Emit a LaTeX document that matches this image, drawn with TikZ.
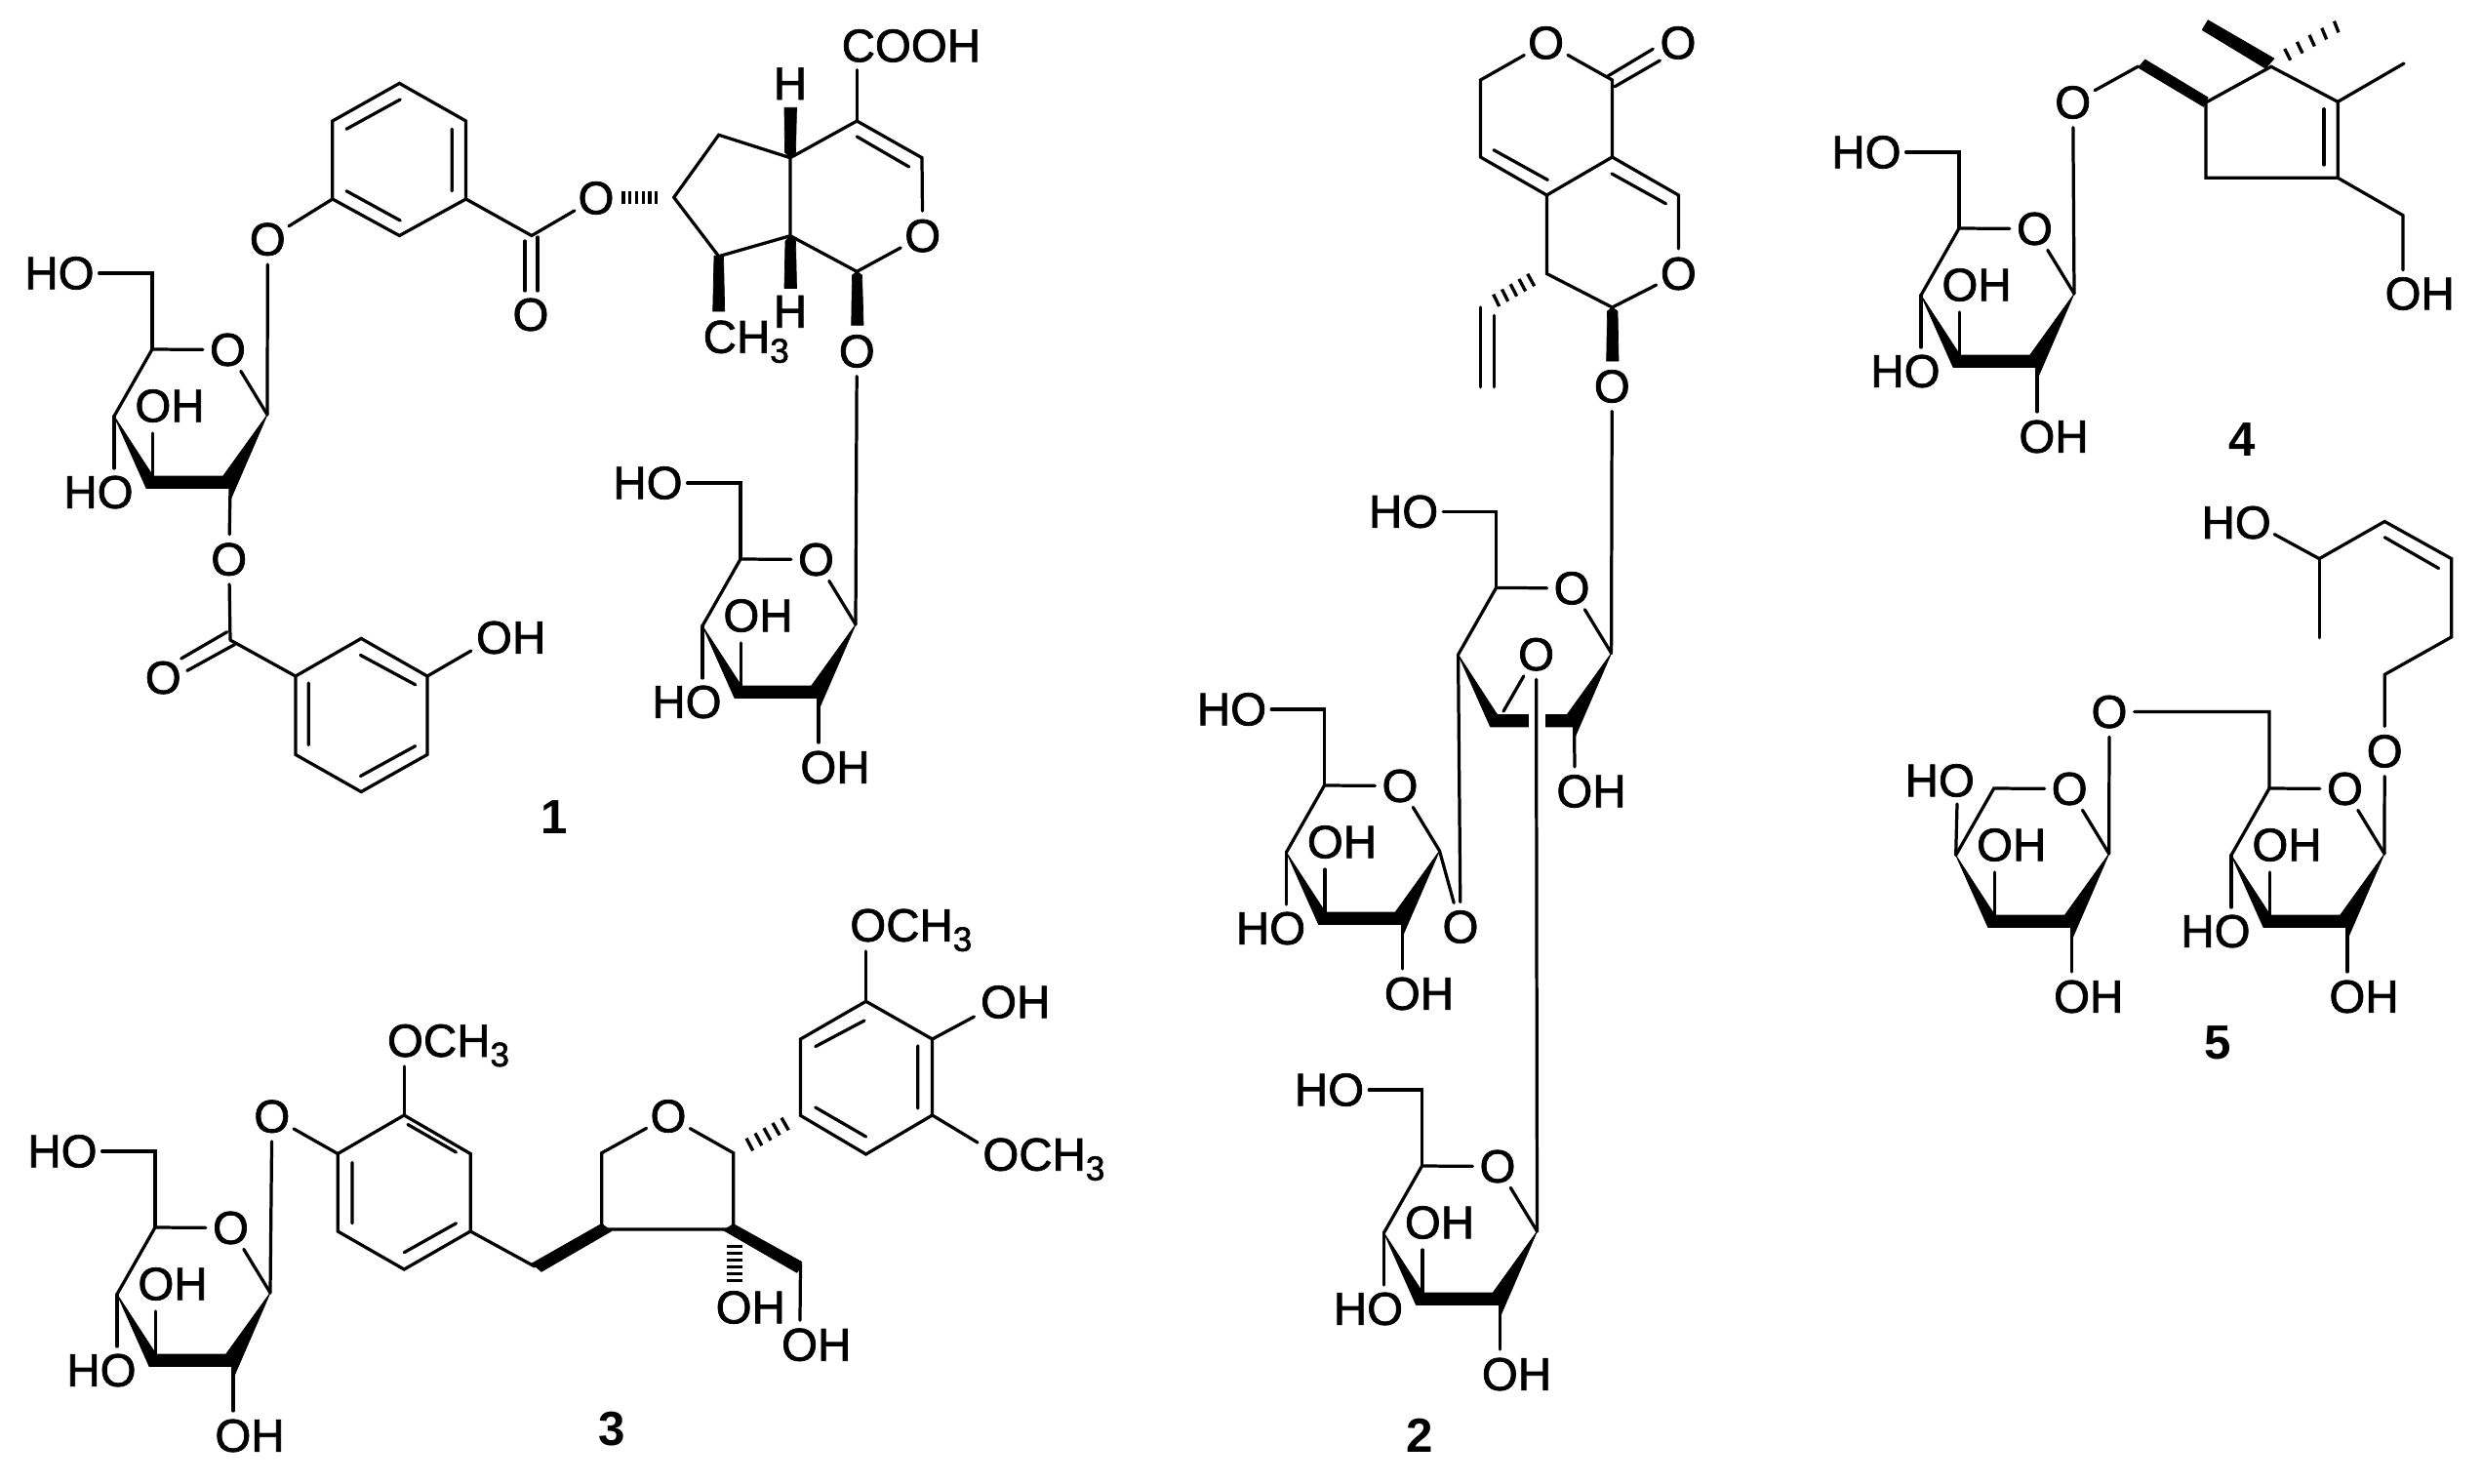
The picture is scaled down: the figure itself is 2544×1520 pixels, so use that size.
\documentclass[tikz,border=0pt]{standalone}
\usepackage{fontspec}
\setmainfont{Liberation Sans}
\usetikzlibrary{calc}
\newcommand\chemsub[1]{\raisebox{-2.84pt}{\fontsize{10}{11}\selectfont\addfontfeature{FakeBold=1.5}#1}}
\newcommand\chemfont{\fontsize{13.5}{16}\selectfont\addfontfeature{FakeBold=1.5}}
\tikzset{
  bond/.style={line width=0.92pt,line cap=round,line join=miter},
  wedgefill/.style={fill=black,draw=black,line width=0.2pt,line join=round},
  atom/.style={circle,minimum size=0.46cm,inner sep=0pt,font=\chemfont},
  lab/.style={inner sep=0pt,outer sep=0.05cm,font=\chemfont},
  num/.style={inner sep=0pt,font=\fontsize{14}{16}\selectfont\bfseries},
  ringcore/.pic={
    \coordinate (-c5) at (0,0);
    \node[atom] (-o) at (77.5,0.5) {O};
    \coordinate (-c1) at (118,67);
    \coordinate (-c4) at (-39,68.5);
    \coordinate (-c2) at (80,143);
    \coordinate (-c3) at (0.5,132);
    \draw[bond] (-c4)--(-c5)--(-o)--(-c1);
    \fill[wedgefill] (-c4)--(1,130)--(72.6,130)--(-c1)--(80,154.7)--(80,142.5)--(-6,142.5)--cycle;
  },
  ohthree/.pic={
    \coordinate (-c3b) at (0.5,132);
    \coordinate (-e3) at (0.5,86);
    \node[lab] (-oh3) at (18,58) {OH};
    \draw[bond] (-c3b)--(-e3);
  },
  hofour/.pic={
    \coordinate (-c4b) at (-39,68.5);
    \coordinate (-e4) at (-39,122);
    \node[lab] (-ho4) at (-55,146.5) {HO};
    \draw[bond] (-c4b)--(-e4);
  },
  hosix/.pic={
    \coordinate (-c5b) at (0,0);
    \coordinate (-c6) at (0,-78);
    \node[lab] (-ho6) at (-95,-78) {HO};
    \draw[bond] (-ho6.east)--(-c6)--(-c5b);
  },
  ohtwo/.pic={
    \coordinate (-c2b) at (80,143);
    \coordinate (-e2) at (80,188);
    \node[lab] (-oh2) at (97,213.5) {OH};
    \draw[bond] (-c2b)--(-e2);
  },
}
\newcommand\sugarfull[2]{%
  \pic (#1) at (#2) {ringcore};\pic (#1) at (#2) {ohthree};\pic (#1) at (#2) {hofour};%
  \pic (#1) at (#2) {hosix};\pic (#1) at (#2) {ohtwo};}
\newcommand\hashes[5]{\foreach \t in {#5}{\draw[line width=0.95pt] ($(#1)!\t!(#3)$)--($(#2)!\t!(#4)$);}}
\begin{document}
\begin{tikzpicture}[x=0.01cm,y=-0.01cm]
\useasboundingbox (0,0) rectangle (2544,1520);
%% ---------- compound 1 ----------
\pic (A) at (156,358) {ringcore};\pic (A) at (156,358) {ohthree};
\pic (A) at (156,358) {hofour};\pic (A) at (156,358) {hosix};
\sugarfull{B}{759,573}
\node[atom] (oa) at (274.3,245.3) {O};
\coordinate (r1a) at (340.8,124);\coordinate (r1b) at (409.4,85.4);\coordinate (r1c) at (477.6,124);
\coordinate (r1d) at (477.6,204);\coordinate (r1e) at (409.4,241.5);\coordinate (r1f) at (340.8,204);
\draw[bond] (A-c1)--(oa)--(r1f);
\draw[bond] (r1a)--(r1b)--(r1c)--(r1d)--(r1e)--(r1f)--cycle;
\draw[bond] (355,132.3)--(410.2,102) (463.3,132.3)--(463.3,195.7) (355,195.7)--(410.2,226);
\coordinate (cc1) at (544.9,241.5);
\node[atom] (oe1) at (611,203) {O};
\node[atom] (oc1) at (544,322.5) {O};
\draw[bond] (r1d)--(cc1)--(oe1);
\draw[bond] (538,247)--(538,298) (551,243)--(551,298);
\node[atom] (ob) at (234.7,573.3) {O};
\coordinate (cc2) at (236,656);
\node[atom] (oc2) at (167.3,694.6) {O};
\draw[bond] (A-c2)--(ob)--(cc2);
\draw[bond] (185.7,675)--(232.7,647.7) (191.8,687.4)--(240.8,660.4);
\coordinate (r2a) at (302.9,693);\coordinate (r2b) at (370.2,654.4);\coordinate (r2c) at (438,693);
\coordinate (r2d) at (438,773.4);\coordinate (r2e) at (370.2,811.5);\coordinate (r2f) at (302.9,773.4);
\draw[bond] (cc2)--(r2a);
\draw[bond] (r2a)--(r2b)--(r2c)--(r2d)--(r2e)--(r2f)--cycle;
\draw[bond] (316.3,700)--(316.3,763.5) (369.4,671.4)--(425.7,701.8) (369.4,795.5)--(425.7,764.6);
\node[lab] (oh1) at (523.7,653.5) {OH};
\coordinate (oh1e) at (482.9,667);
\draw[bond] (r2c)--(oh1e);
\node[num] (n1) at (568,838) {1};
% iridoid
\coordinate (p1) at (690.7,202.3);\coordinate (p2) at (736.7,138.3);\coordinate (p3) at (810,161.7);
\coordinate (p4) at (810,241.7);\coordinate (p5) at (736.7,262.7);
\coordinate (q1) at (878.3,124);\coordinate (q2) at (945,161.7);
\node[atom] (qo) at (945.7,241.7) {O};
\coordinate (q3) at (878.3,278.3);
\draw[bond] (p1)--(p2)--(p3)--(p4)--(p5)--cycle;
\draw[bond] (p3)--(q1)--(q2)--(qo)--(q3)--(p4);
\draw[bond] (878.3,140)--(931.7,171);
\hashes{639,195.5}{639,209}{672.7,195.5}{672.7,209}{0,0.2,0.4,0.6,0.8,1}
\node[lab] (cooh) at (933.9,46.9) {COOH};
\coordinate (cooe) at (878.3,71.7);
\draw[bond] (q1)--(cooe);
\node[lab] (h1) at (810,85.7) {H};
\node[lab] (h2) at (810,319.3) {H};
\fill[wedgefill] (p3)--(804.5,156)--(804,110.3)--(816.5,110.3)--(815.5,156)--cycle;
\fill[wedgefill] (p4)--(805,247)--(804,295.5)--(816.5,295.5)--(815.5,247)--cycle;
\fill[wedgefill] (p5)--(732,262)--(730.7,319)--(742.7,319)--(741.5,262)--cycle;
\node[lab,anchor=base west,outer sep=0pt] (ch1) at (720.7,361.7) {CH\chemsub{3}};
\fill[wedgefill] (q3)--(873.5,282)--(872.7,333.3)--(885,333.3)--(883.5,282)--cycle;
\node[atom] (qq) at (878.3,360) {O};
\draw[bond] (qq)--(B-c1);
%% ---------- compound 3 ----------
\sugarfull{C}{159,1258}
\node[atom] (oc) at (278.8,1144.3) {O};
\coordinate (s1) at (346.2,1182.5);\coordinate (s2) at (414.2,1143);\coordinate (s3) at (482.2,1182.5);
\coordinate (s4) at (482.2,1262);\coordinate (s5) at (414.2,1301);\coordinate (s6) at (346.2,1262);
\draw[bond] (C-c1)--(oc)--(s1);
\draw[bond] (s1)--(s2)--(s3)--(s4)--(s5)--(s6)--cycle;
\draw[bond] (418,1152.5)--(467.5,1181) (361,1191.5)--(361,1253.8) (414.2,1283.7)--(467.5,1253.8);
\coordinate (m1e) at (414.2,1093);
\draw[bond] (s2)--(m1e);
\node[lab,anchor=base west,outer sep=0pt] (me1) at (397,1083) {OCH\chemsub{3}};
\coordinate (t1) at (548,1298);\coordinate (t2) at (616.7,1260);\coordinate (t3) at (616.7,1181.7);
\node[atom] (to) at (685,1144) {O};
\coordinate (t4) at (751.7,1181.7);\coordinate (t5) at (751.7,1260);
\draw[bond] (s4)--(t1);
\fill[wedgefill] (545,1295)--(555,1303.3)--(626.7,1261.7)--(616.7,1254.3)--cycle;
\draw[bond] (t2)--(t3)--(to)--(t4)--(t5)--(t2);
\coordinate (u1) at (820.5,1143.3);\coordinate (u2) at (820.5,1065);\coordinate (u3) at (887.6,1026.3);
\coordinate (u4) at (955.6,1065);\coordinate (u5) at (955.6,1143);\coordinate (u6) at (887.6,1183);
\draw[bond] (u1)--(u2)--(u3)--(u4)--(u5)--(u6)--cycle;
\draw[bond] (835.8,1072.6)--(886,1046) (940.8,1071.8)--(940.8,1136) (835.8,1135)--(887.6,1165);
\hashes{765,1166.7}{771.7,1179.3}{801,1145.7}{808.3,1158.3}{0,0.25,0.5,0.75,1}
\coordinate (m2e) at (887.6,975);
\draw[bond] (u3)--(m2e);
\node[lab,anchor=base west,outer sep=0pt] (me2) at (871.3,964.8) {OCH\chemsub{3}};
\node[lab] (ohu) at (1040.7,1027) {OH};
\coordinate (ohue) at (998.5,1042);
\draw[bond] (u4)--(ohue);
\node[lab,anchor=base west,outer sep=0pt] (me3) at (1007.4,1199.7) {OCH\chemsub{3}};
\coordinate (m3e) at (1002,1171);
\draw[bond] (u5)--(m3e);
\coordinate (v1) at (820.5,1297);\coordinate (v2) at (820,1353.3);
\fill[wedgefill] (751.7,1254.5)--(821.7,1293.3)--(821.7,1298)--(816.7,1304.3)--(741.7,1261)--cycle;
\draw[bond] (v1)--(v2);
\node[lab] (ohv) at (836.7,1378.3) {OH};
\hashes{745,1277.7}{760.7,1277.7}{745,1312.3}{760.7,1312.3}{0,0.2,0.4,0.6,0.8,1}
\node[lab] (ohw) at (769.3,1340) {OH};
\node[num] (n3) at (627,1465) {3};
%% ---------- compound 2 ----------
\node[atom] (lo) at (1584.6,43.9) {O};
\node[atom] (co2) at (1720,43.9) {O};
\coordinate (w1) at (1517.5,82);\coordinate (w2) at (1652.5,82);\coordinate (w3) at (1517.5,161);
\coordinate (w4) at (1585.4,200);\coordinate (w5) at (1652.5,161);\coordinate (w6) at (1720.4,200);
\node[atom] (wo) at (1720.4,280.5) {O};
\coordinate (w7) at (1652.5,315);\coordinate (w8) at (1585.4,280.5);
\draw[bond] (lo)--(w1)--(w3)--(w4)--(w5)--(w2)--(lo);
\draw[bond] (w5)--(w6)--(wo)--(w7)--(w8)--(w4);
\draw[bond] (1531,153.7)--(1586.4,184.4) (1652,178)--(1707.5,208.8);
\draw[bond] (1647.9,78)--(1694.3,50.2) (1655,88.8)--(1701.4,62);
\hashes{1565.7,280.7}{1572.7,293.3}{1530.7,301.7}{1536.7,314}{0,0.25,0.5,0.75,1}
\draw[bond] (1517.3,315)--(1517.3,396.7) (1531.7,323.3)--(1531.7,396.7);
\fill[wedgefill] (w7)--(1647.5,319)--(1646.7,370)--(1659,370)--(1658,319)--cycle;
\node[atom] (wq) at (1652.3,396) {O};
\pic (D) at (1533.6,602.4) {ringcore};\pic (D) at (1533.6,602.4) {hosix};
\draw[bond] (wq)--(D-c1);
\node[lab] (ohd) at (1631,811) {OH};
\coordinate (ohde) at (1614,786);
\draw[bond] (D-c2)--(ohde);
\sugarfull{E}{1357.5,805}
\sugarfull{F}{1457.5,1195}
\node[atom] (de) at (1497,950) {O};
\draw[bond] (D-c4)--(de)--(E-c1);
\node[atom] (df) at (1574.6,670.7) {O};
\draw[bond] (df)--(1541,729);
\fill[white] (1566.5,725) rectangle (1583.5,750);
\draw[bond] (df)--(F-c1);
\node[num] (n2) at (1455,1471) {2};
%% ---------- compound 4 ----------
\sugarfull{G}{2008,234}
\node[atom] (gq) at (2124.7,105) {O};
\coordinate (g0) at (2191.7,68);
\draw[bond] (G-c1)--(gq)--(g0);
\fill[wedgefill] (2191.7,69.3)--(2198.6,61)--(2263.2,100)--(2258.6,109.3)--cycle;
\coordinate (g1) at (2261,105);\coordinate (g2) at (2327.9,68.3);\coordinate (g3) at (2396.2,104.3);
\coordinate (g4) at (2396.2,182.3);\coordinate (g5) at (2261,182.3);
\draw[bond] (g1)--(g2)--(g3)--(g4)--(g5)--cycle;
\draw[bond] (2381.9,111.7)--(2381.9,169);
\fill[wedgefill] (2331,60)--(2263.2,20.7)--(2257.2,30.7)--(2322,70)--cycle;
\hashes{2341.7,50}{2347.7,61.7}{2392.5,21.7}{2397,33.3}{0,0.25,0.5,0.75,1}
\coordinate (g6) at (2464,65);\coordinate (g7) at (2463,220.7);\coordinate (g8) at (2463,276.7);
\draw[bond] (g3)--(g6);
\draw[bond] (g4)--(g7)--(g8);
\node[lab] (ohg) at (2480.2,301) {OH};
\node[num] (n4) at (2298,451) {4};
%% ---------- compound 5 ----------
\pic (H) at (2043.7,808) {ringcore};\pic (H) at (2043.7,808) {ohthree};\pic (H) at (2043.7,808) {ohtwo};
\pic (I) at (2326,808) {ringcore};\pic (I) at (2326,808) {ohthree};\pic (I) at (2326,808) {hofour};\pic (I) at (2326,808) {ohtwo};
\node[lab] (hoh) at (1988.3,800) {HO};
\coordinate (hohe) at (2006,824);
\draw[bond] (H-c4)--(hohe);
\node[atom] (hq) at (2162,729.6) {O};
\coordinate (i6) at (2326,729.6);
\draw[bond] (H-c1)--(hq)--(i6)--(I-c5);
\node[atom] (iq) at (2444.2,770) {O};
\coordinate (x1) at (2444.2,691.4);\coordinate (x2) at (2512.7,652.9);\coordinate (x3) at (2512.7,572.6);
\coordinate (x4) at (2444.2,534.5);\coordinate (x5) at (2377.2,572.6);\coordinate (x6) at (2377.2,653.7);
\coordinate (x7) at (2331.2,547.6);
\node[lab] (hox) at (2292.2,535.6) {HO};
\draw[bond] (I-c1)--(iq)--(x1)--(x2)--(x3)--(x4)--(x5)--(x7);
\draw[bond] (x5)--(x6);
\draw[bond] (2444.2,550.7)--(2499.6,582.5);
\node[num] (n5) at (2273,1069) {5};
\end{tikzpicture}
\end{document}
